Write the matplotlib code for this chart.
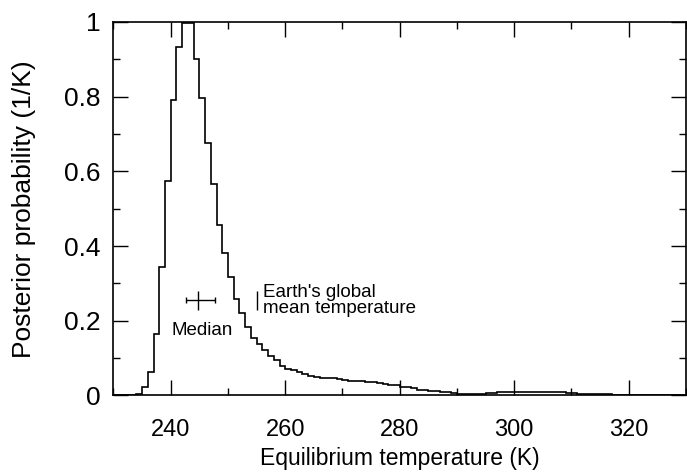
import matplotlib
matplotlib.use("Agg")
import matplotlib.pyplot as plt
from matplotlib.ticker import MultipleLocator, FuncFormatter
import numpy as np

plt.rcParams['font.family'] = ['Liberation Sans', 'DejaVu Sans']

# Histogram: 1 K bins starting at 230 K
t_start = 230
bin_width = 1
prob = [
    0.0, 0.0, 0.0, 0.001, 0.004, 0.022, 0.064, 0.164, 0.343, 0.574,
    0.791, 0.932, 0.997, 0.997, 0.901, 0.797, 0.677, 0.566, 0.457, 0.381,
    0.316, 0.259, 0.221, 0.184, 0.155, 0.138, 0.122, 0.107, 0.094, 0.079,
    0.071, 0.067, 0.062, 0.057, 0.053, 0.050, 0.048, 0.047, 0.046, 0.043,
    0.041, 0.040, 0.039, 0.038, 0.037, 0.036, 0.034, 0.031, 0.029, 0.027,
    0.024, 0.022, 0.020, 0.016, 0.014, 0.012, 0.011, 0.010, 0.008, 0.006,
    0.005, 0.004, 0.004, 0.004, 0.005, 0.006, 0.007, 0.008, 0.009, 0.009,
    0.009, 0.009, 0.009, 0.008, 0.008, 0.008, 0.008, 0.008, 0.008, 0.007,
    0.006, 0.005, 0.003, 0.003, 0.003, 0.003, 0.003, 0.002, 0.002, 0.002,
    0.002, 0.002, 0.002, 0.002, 0.002, 0.001, 0.001, 0.001, 0.001, 0.001,
]

# median with asymmetric range, and Earth's value
median_t = 244.7
median_lo, median_hi = 2.0, 3.1
marker_y = 0.255
marker_dy = 0.025
earth_t = 255.0

edges = t_start + bin_width * np.arange(len(prob) + 1)

fig = plt.figure(figsize=(6.87, 4.75), dpi=100)
ax = fig.add_axes([0.1652, 0.1674, 0.8333, 0.7863])

ax.stairs(prob, edges, color='black', linewidth=1.2)

# median cross
ax.errorbar([median_t], [marker_y], xerr=[[median_lo], [median_hi]],
            fmt='none', ecolor='black', elinewidth=1, capsize=2, capthick=1)
ax.errorbar([median_t], [marker_y], yerr=marker_dy,
            fmt='none', ecolor='black', elinewidth=1, capsize=0)
ax.text(245.5, 0.175, 'Median', ha='center', va='center', fontsize=13.5)

# Earth's global mean temperature
ax.errorbar([earth_t], [marker_y], yerr=marker_dy,
            fmt='none', ecolor='black', elinewidth=1, capsize=0)
ax.text(256.05, 0.255, "Earth's global\nmean temperature", ha='left',
        va='center', fontsize=13.5, linespacing=0.95)

ax.set_xlim(230, 330)
ax.set_ylim(0, 1)
ax.xaxis.set_major_locator(MultipleLocator(20))
ax.xaxis.set_minor_locator(MultipleLocator(10))
ax.yaxis.set_major_locator(MultipleLocator(0.2))
ax.yaxis.set_minor_locator(MultipleLocator(0.1))
ax.yaxis.set_major_formatter(FuncFormatter(lambda v, p: '%g' % round(v, 2)))

ax.tick_params(which='both', direction='in', top=True, right=True, width=1)
ax.tick_params(which='major', length=10.8)
ax.tick_params(which='minor', length=5)
ax.tick_params(axis='x', which='major', labelsize=17, pad=17)
ax.tick_params(axis='y', which='major', labelsize=19, pad=9.5)
for s in ax.spines.values():
    s.set_linewidth(1.2)

ax.set_xlabel('Equilibrium temperature (K)', fontsize=16.5, labelpad=4)
ax.set_ylabel('Posterior probability (1/K)', fontsize=19, labelpad=20)

fig.savefig('out.png', dpi=100)
